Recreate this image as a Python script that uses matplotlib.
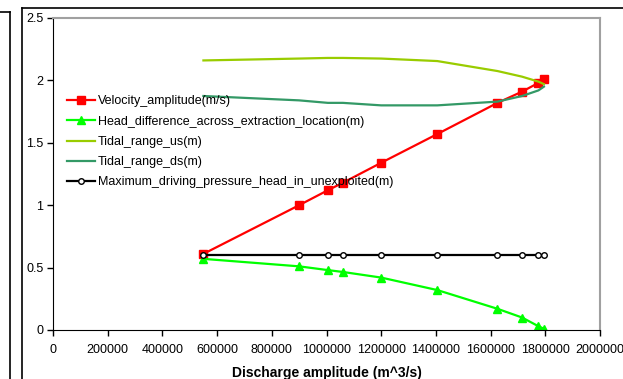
import matplotlib
matplotlib.use("Agg")
import matplotlib.pyplot as plt
from matplotlib.lines import Line2D

plt.rcParams['font.family'] = ['Liberation Sans', 'DejaVu Sans']

discharge = [550000, 900000, 1005000, 1060000, 1200000, 1405000, 1625000, 1715000, 1775000, 1795000]
velocity = [0.61, 1.00, 1.12, 1.18, 1.34, 1.57, 1.82, 1.91, 1.98, 2.01]
head_diff = [0.57, 0.51, 0.48, 0.465, 0.42, 0.32, 0.17, 0.10, 0.03, 0.01]
tidal_us = [2.16, 2.175, 2.18, 2.18, 2.175, 2.155, 2.075, 2.03, 1.99, 1.97]
tidal_ds = [1.875, 1.84, 1.82, 1.82, 1.80, 1.80, 1.83, 1.875, 1.92, 1.95]
max_head = [0.6, 0.6, 0.6, 0.6, 0.6, 0.6, 0.6, 0.6, 0.6, 0.6]

xticks = [0, 200000, 400000, 600000, 800000, 1000000, 1200000, 1400000, 1600000, 1800000, 2000000]
yticks = [0, 0.5, 1, 1.5, 2, 2.5]
ytick_labels = ['0', '0.5', '1', '1.5', '2', '2.5']

W, H = 623, 379
fig = plt.figure(figsize=(W / 100, H / 100), dpi=100)
ax = fig.add_axes([53 / W, 1 - 330 / H, (600 - 53) / W, (330 - 18) / H])

ax.plot(discharge, velocity, color='#FF0000', lw=1.6, marker='s', ms=5.5, label='Velocity_amplitude(m/s)')
ax.plot(discharge, head_diff, color='#00FF00', lw=1.6, marker='^', ms=5.5, label='Head_difference_across_extraction_location(m)')
ax.plot(discharge, tidal_us, color='#99CC00', lw=1.6, label='Tidal_range_us(m)')
ax.plot(discharge, tidal_ds, color='#339966', lw=1.6, label='Tidal_range_ds(m)')
ax.plot(discharge, max_head, color='black', lw=1.6, marker='o', ms=4, mfc='white', mew=1,
        label='Maximum_driving_pressure_head_in_unexploited(m)')

ax.set_xlim(0, 2000000)
ax.set_ylim(0, 2.5)
ax.set_xticks(xticks)
ax.set_xticklabels([str(v) for v in xticks])
ax.set_yticks(yticks)
ax.set_yticklabels(ytick_labels)
ax.tick_params(axis='both', labelsize=9, direction='out', length=4, width=1, pad=3)
ax.tick_params(axis='x', pad=6)
for s in ['top', 'right']:
    ax.spines[s].set_color('#A0A0A0')
    ax.spines[s].set_linewidth(1.5)
for s in ['left', 'bottom']:
    ax.spines[s].set_color('black')
ax.set_xlabel('Discharge amplitude (m^3/s)', fontsize=10, fontweight='bold', labelpad=7)

leg = ax.legend(loc='upper left', bbox_to_anchor=(0.025, 0.752), frameon=False, fontsize=9,
                handlelength=2.3, handletextpad=0.2, labelspacing=0.66, borderaxespad=0,
                borderpad=0)

# surrounding frames from the page
fig.add_artist(Line2D([22 / W, 22 / W], [0, 1 - 8 / H], color='black', lw=1.2))
fig.add_artist(Line2D([22 / W, 1], [1 - 8 / H, 1 - 8 / H], color='black', lw=1.2))
fig.add_artist(Line2D([10 / W, 10 / W], [0, 1 - 12 / H], color='black', lw=1.2))
fig.add_artist(Line2D([0, 10 / W], [1 - 12 / H, 1 - 12 / H], color='black', lw=1.2))

fig.savefig('out.png', dpi=100)
